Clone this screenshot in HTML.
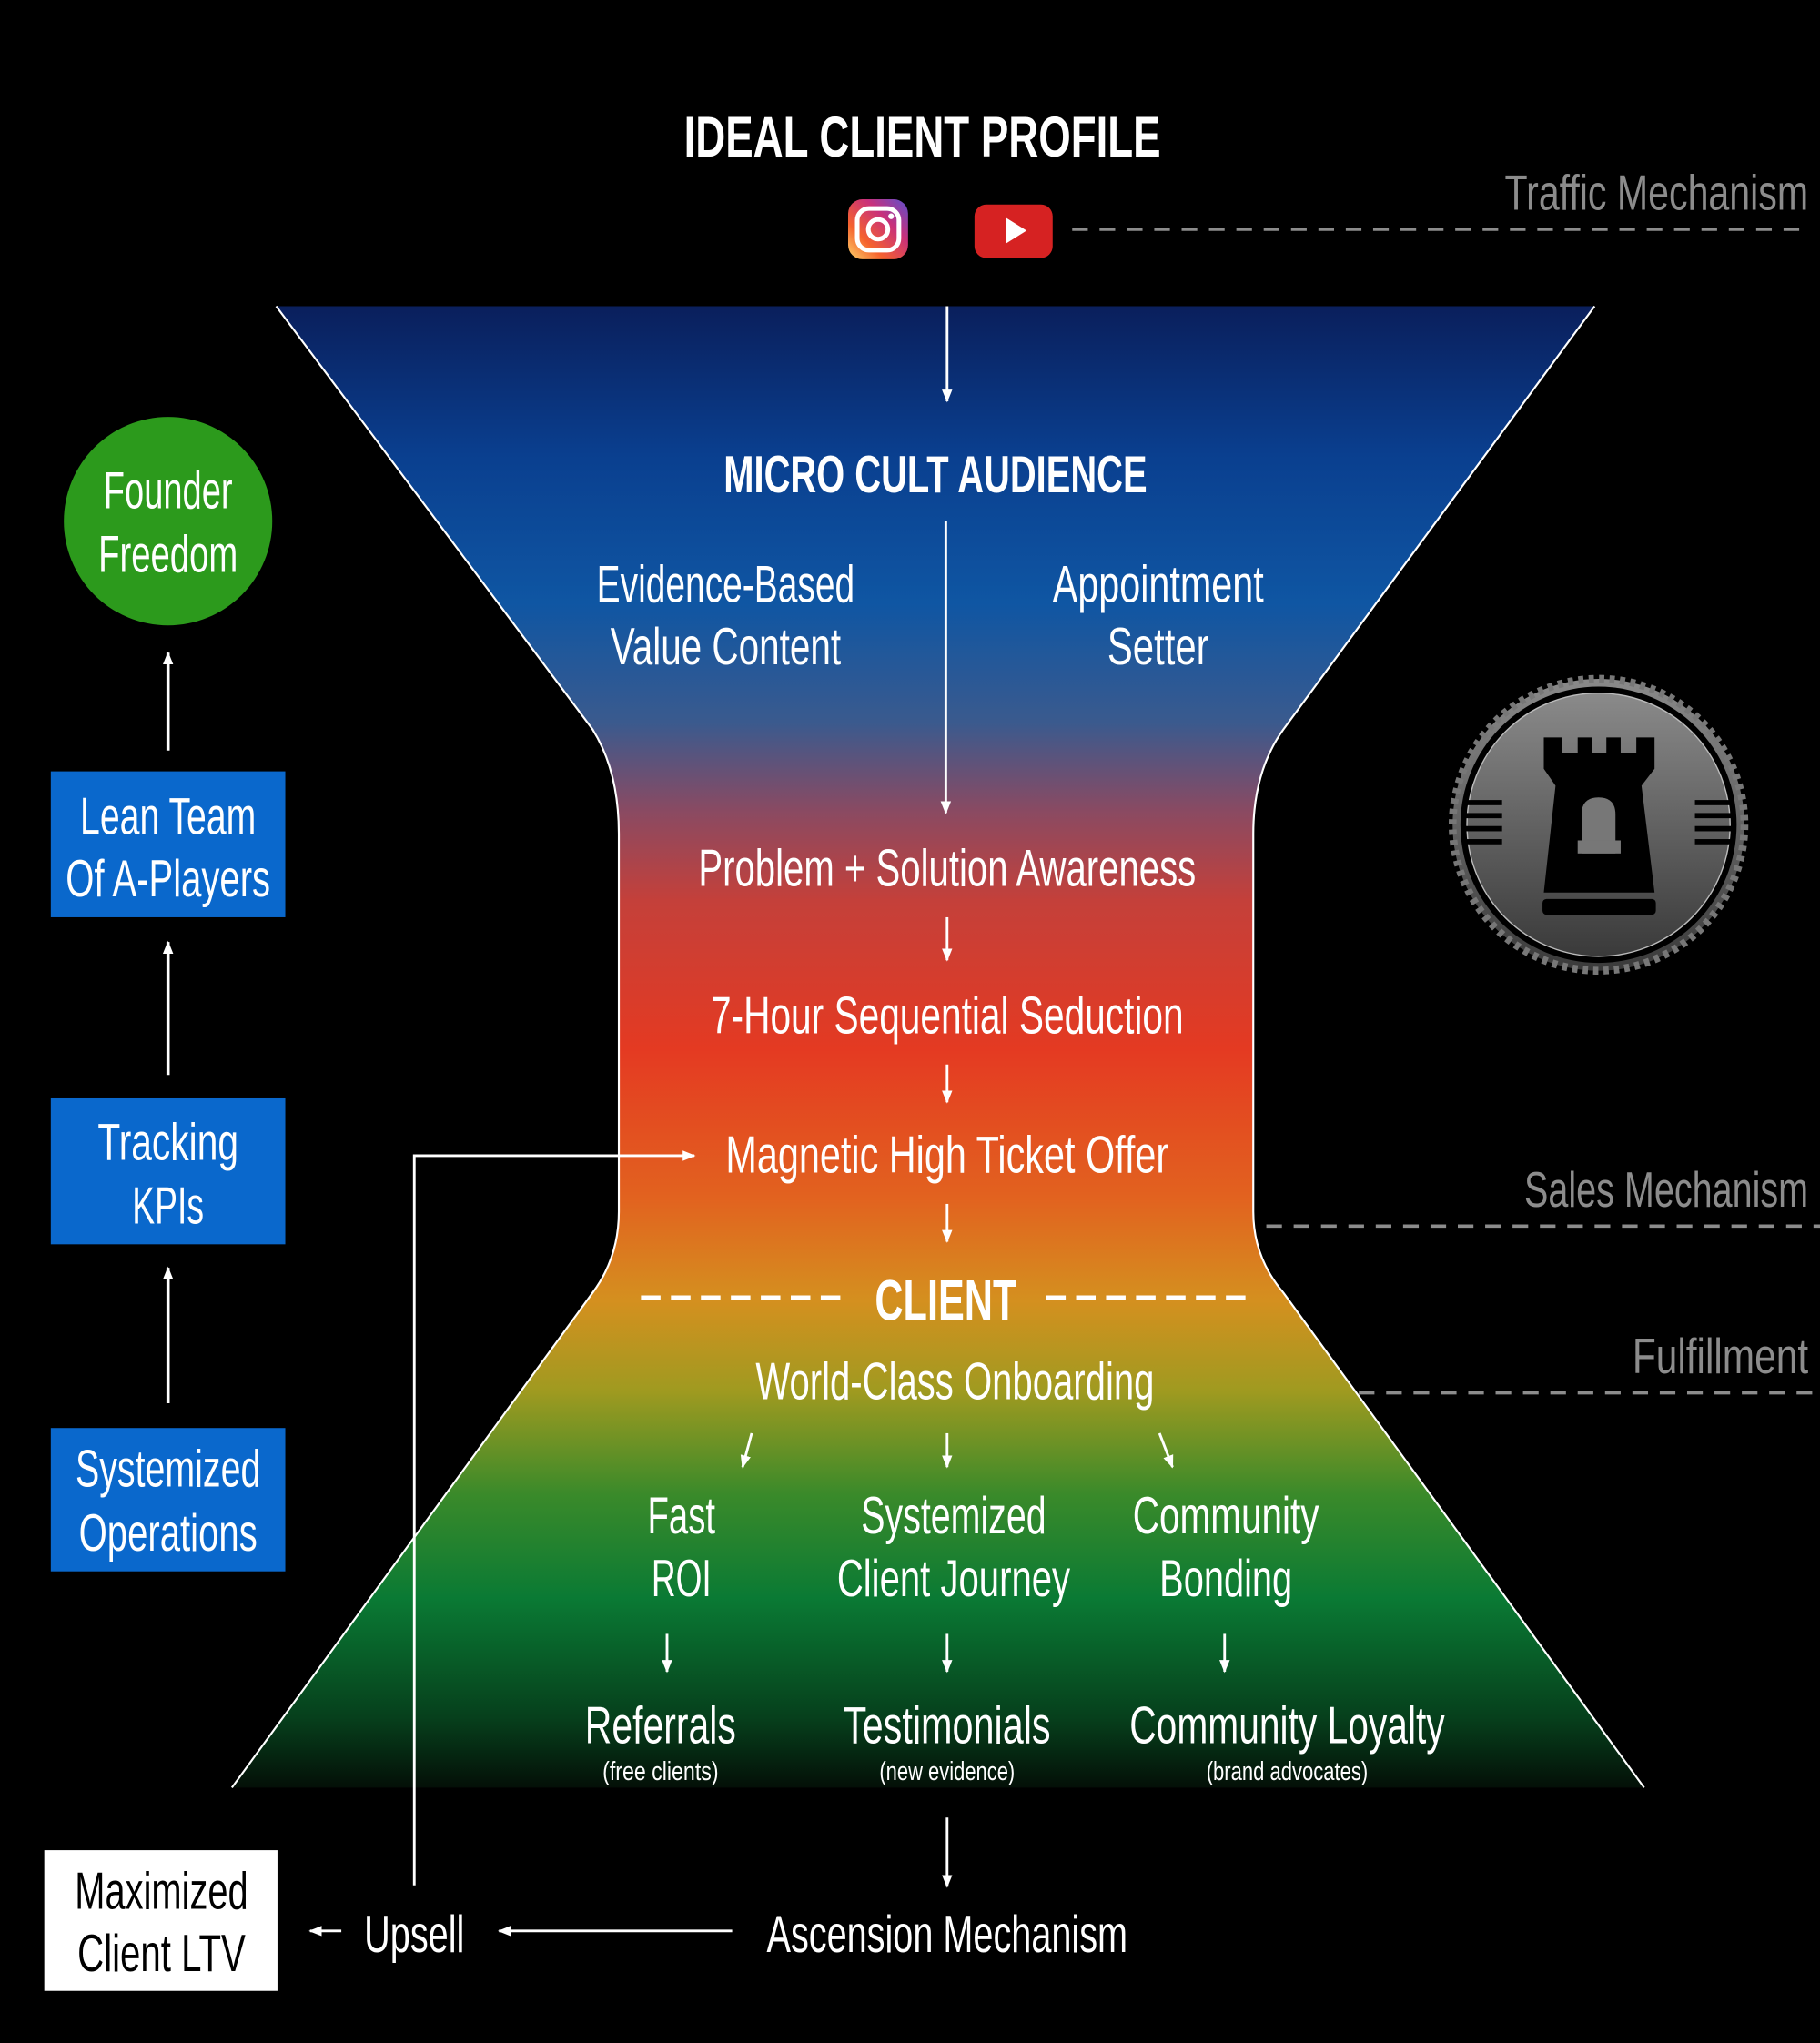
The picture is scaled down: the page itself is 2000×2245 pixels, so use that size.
<!DOCTYPE html>
<html><head><meta charset="utf-8"><style>
html,body{margin:0;padding:0;background:#000;}
svg{display:block;}
text{font-family:"Liberation Sans Narrow","Liberation Sans",sans-serif;fill:#fff;text-anchor:middle;}
.b{font-weight:bold;}
.g{fill:#8c8c8c;text-anchor:end;}
</style></head><body>
<svg width="2000" height="2245" viewBox="0 0 1397 1568" preserveAspectRatio="none" xmlns="http://www.w3.org/2000/svg">
<defs>
<linearGradient id="fg" x1="0" y1="235" x2="0" y2="1375" gradientUnits="userSpaceOnUse">
<stop offset="0" stop-color="#0a1f5c"/>
<stop offset="0.1" stop-color="#0a3f8f"/>
<stop offset="0.2" stop-color="#0f56a3"/>
<stop offset="0.28" stop-color="#3a5a8e"/>
<stop offset="0.34" stop-color="#8a4a62"/>
<stop offset="0.4" stop-color="#c4403a"/>
<stop offset="0.5" stop-color="#e43a22"/>
<stop offset="0.6" stop-color="#e2621f"/>
<stop offset="0.67" stop-color="#d4901f"/>
<stop offset="0.73" stop-color="#a09a20"/>
<stop offset="0.8" stop-color="#3a8a2a"/>
<stop offset="0.87" stop-color="#0a7a34"/>
<stop offset="0.95" stop-color="#06401c"/>
<stop offset="1" stop-color="#040d06"/>
</linearGradient>
<linearGradient id="ig" x1="0" y1="1" x2="1" y2="0">
<stop offset="0" stop-color="#fdd36a"/><stop offset="0.3" stop-color="#f5622e"/><stop offset="0.65" stop-color="#c9307a"/><stop offset="1" stop-color="#5b4fd0"/>
</linearGradient>
<linearGradient id="bg" x1="0" y1="0" x2="0" y2="1">
<stop offset="0" stop-color="#8a8a8a"/><stop offset="1" stop-color="#3a3a3a"/>
</linearGradient>
<marker id="ah" markerWidth="10" markerHeight="8" refX="9" refY="4" orient="auto" markerUnits="userSpaceOnUse"><path d="M0,0 L10,4 L0,8 Z" fill="#fff"/></marker>
</defs>

<path d="M212,235 L1224,235 L985,560 Q962,592 962,640 L962,930 Q962,965 985,992 L1262,1372 L178,1372 L455,992 Q475,965 475,930 L475,640 Q475,592 455,560 Z" fill="url(#fg)"/>
<path d="M212,235 L455,560 Q475,592 475,640 L475,930 Q475,965 455,992 L178,1372" fill="none" stroke="#fff" stroke-width="1.5"/>
<path d="M1224,235 L985,560 Q962,592 962,640 L962,930 Q962,965 985,992 L1262,1372" fill="none" stroke="#fff" stroke-width="1.5"/>

<g lengthAdjust="spacingAndGlyphs">
<text x="708" y="120" class="b" font-size="44" textLength="366" lengthAdjust="spacingAndGlyphs">IDEAL CLIENT PROFILE</text>
<text x="1388" y="161" class="g" font-size="38" textLength="233" lengthAdjust="spacingAndGlyphs">Traffic Mechanism</text>
<text x="718" y="378" class="b" font-size="40" textLength="325" lengthAdjust="spacingAndGlyphs">MICRO CULT AUDIENCE</text>
<text x="557" y="462" font-size="40" textLength="198" lengthAdjust="spacingAndGlyphs">Evidence-Based</text>
<text x="557" y="510" font-size="40" textLength="177" lengthAdjust="spacingAndGlyphs">Value Content</text>
<text x="889" y="462" font-size="40" textLength="162" lengthAdjust="spacingAndGlyphs">Appointment</text>
<text x="889" y="510" font-size="40" textLength="78" lengthAdjust="spacingAndGlyphs">Setter</text>
<text x="727" y="680" font-size="40" textLength="382" lengthAdjust="spacingAndGlyphs">Problem + Solution Awareness</text>
<text x="727" y="793" font-size="40" textLength="363" lengthAdjust="spacingAndGlyphs">7-Hour Sequential Seduction</text>
<text x="727" y="900" font-size="40" textLength="340" lengthAdjust="spacingAndGlyphs">Magnetic High Ticket Offer</text>
<text x="726" y="1013" class="b" font-size="44" textLength="109" lengthAdjust="spacingAndGlyphs">CLIENT</text>
<text x="1388" y="926" class="g" font-size="38" textLength="218" lengthAdjust="spacingAndGlyphs">Sales Mechanism</text>
<text x="1388" y="1054" class="g" font-size="38" textLength="135" lengthAdjust="spacingAndGlyphs">Fulfillment</text>
<text x="733" y="1074" font-size="40" textLength="306" lengthAdjust="spacingAndGlyphs">World-Class Onboarding</text>
<text x="523" y="1177" font-size="40" textLength="52" lengthAdjust="spacingAndGlyphs">Fast</text>
<text x="523" y="1225" font-size="40" textLength="46" lengthAdjust="spacingAndGlyphs">ROI</text>
<text x="732" y="1177" font-size="40" textLength="142" lengthAdjust="spacingAndGlyphs">Systemized</text>
<text x="732" y="1225" font-size="40" textLength="179" lengthAdjust="spacingAndGlyphs">Client Journey</text>
<text x="941" y="1177" font-size="40" textLength="143" lengthAdjust="spacingAndGlyphs">Community</text>
<text x="941" y="1225" font-size="40" textLength="102" lengthAdjust="spacingAndGlyphs">Bonding</text>
<text x="507" y="1338" font-size="40" textLength="116" lengthAdjust="spacingAndGlyphs">Referrals</text>
<text x="507" y="1366" font-size="20" textLength="89" lengthAdjust="spacingAndGlyphs">(free clients)</text>
<text x="727" y="1338" font-size="40" textLength="159" lengthAdjust="spacingAndGlyphs">Testimonials</text>
<text x="727" y="1366" font-size="20" textLength="104" lengthAdjust="spacingAndGlyphs">(new evidence)</text>
<text x="988" y="1338" font-size="40" textLength="242" lengthAdjust="spacingAndGlyphs">Community Loyalty</text>
<text x="988" y="1366" font-size="20" textLength="124" lengthAdjust="spacingAndGlyphs">(brand advocates)</text>
<text x="727" y="1498" font-size="40" textLength="277" lengthAdjust="spacingAndGlyphs">Ascension Mechanism</text>
<text x="318" y="1498" font-size="40" textLength="77" lengthAdjust="spacingAndGlyphs">Upsell</text>
</g>

<rect x="651" y="153" width="46" height="46" rx="11" fill="url(#ig)"/>
<rect x="658" y="160" width="32" height="32" rx="9" fill="none" stroke="#fff" stroke-width="3.5"/>
<circle cx="674" cy="176" r="7.5" fill="none" stroke="#fff" stroke-width="3.5"/>
<circle cx="684" cy="166" r="2.2" fill="#fff"/>
<rect x="748" y="157" width="60" height="41" rx="9" fill="#d62222"/>
<path d="M772,167 L788,177 L772,187 Z" fill="#fff"/>
<line x1="823" y1="176" x2="1385" y2="176" stroke="#8c8c8c" stroke-width="2.5" stroke-dasharray="12,9"/>

<line x1="727" y1="235" x2="727" y2="308" stroke="#fff" stroke-width="2" marker-end="url(#ah)"/>
<line x1="726" y1="400" x2="726" y2="624" stroke="#fff" stroke-width="2" marker-end="url(#ah)"/>
<line x1="727" y1="704" x2="727" y2="737" stroke="#fff" stroke-width="2" marker-end="url(#ah)"/>
<line x1="727" y1="817" x2="727" y2="846" stroke="#fff" stroke-width="2" marker-end="url(#ah)"/>
<line x1="727" y1="924" x2="727" y2="953" stroke="#fff" stroke-width="2" marker-end="url(#ah)"/>

<line x1="492" y1="996" x2="645" y2="996" stroke="#fff" stroke-width="3.5" stroke-dasharray="15,8"/>
<line x1="803" y1="996" x2="957" y2="996" stroke="#fff" stroke-width="3.5" stroke-dasharray="15,8"/>
<line x1="972" y1="941" x2="1397" y2="941" stroke="#8c8c8c" stroke-width="2.5" stroke-dasharray="12,9"/>
<line x1="1043" y1="1069" x2="1397" y2="1069" stroke="#8c8c8c" stroke-width="2.5" stroke-dasharray="12,9"/>

<line x1="577" y1="1100" x2="570" y2="1126" stroke="#fff" stroke-width="2" marker-end="url(#ah)"/>
<line x1="727" y1="1100" x2="727" y2="1126" stroke="#fff" stroke-width="2" marker-end="url(#ah)"/>
<line x1="890" y1="1100" x2="900" y2="1126" stroke="#fff" stroke-width="2" marker-end="url(#ah)"/>
<line x1="512" y1="1254" x2="512" y2="1283" stroke="#fff" stroke-width="2" marker-end="url(#ah)"/>
<line x1="727" y1="1254" x2="727" y2="1283" stroke="#fff" stroke-width="2" marker-end="url(#ah)"/>
<line x1="940" y1="1254" x2="940" y2="1283" stroke="#fff" stroke-width="2" marker-end="url(#ah)"/>

<line x1="727" y1="1395" x2="727" y2="1448" stroke="#fff" stroke-width="2" marker-end="url(#ah)"/>
<line x1="562" y1="1482" x2="383" y2="1482" stroke="#fff" stroke-width="2" marker-end="url(#ah)"/>
<line x1="262" y1="1482" x2="238" y2="1482" stroke="#fff" stroke-width="2" marker-end="url(#ah)"/>
<rect x="34" y="1420" width="179" height="108" fill="#fff"/>
<text x="124" y="1465" font-size="40" style="fill:#000" textLength="133" lengthAdjust="spacingAndGlyphs">Maximized</text>
<text x="124" y="1513" font-size="40" style="fill:#000" textLength="129" lengthAdjust="spacingAndGlyphs">Client LTV</text>
<polyline points="318,1447 318,887 533,887" fill="none" stroke="#fff" stroke-width="2" marker-end="url(#ah)"/>

<circle cx="129" cy="400" r="80" fill="#2c9a1c"/>
<text x="129" y="390" font-size="40" textLength="99" lengthAdjust="spacingAndGlyphs">Founder</text>
<text x="129" y="439" font-size="40" textLength="107" lengthAdjust="spacingAndGlyphs">Freedom</text>
<line x1="129" y1="576" x2="129" y2="501" stroke="#fff" stroke-width="2.5" marker-end="url(#ah)"/>
<rect x="39" y="592" width="180" height="112" fill="#0a68cc"/>
<text x="129" y="640" font-size="40" textLength="135" lengthAdjust="spacingAndGlyphs">Lean Team</text>
<text x="129" y="688" font-size="40" textLength="157" lengthAdjust="spacingAndGlyphs">Of A-Players</text>
<line x1="129" y1="825" x2="129" y2="723" stroke="#fff" stroke-width="2.5" marker-end="url(#ah)"/>
<rect x="39" y="843" width="180" height="112" fill="#0a68cc"/>
<text x="129" y="890" font-size="40" textLength="108" lengthAdjust="spacingAndGlyphs">Tracking</text>
<text x="129" y="939" font-size="40" textLength="55" lengthAdjust="spacingAndGlyphs">KPIs</text>
<line x1="129" y1="1077" x2="129" y2="973" stroke="#fff" stroke-width="2.5" marker-end="url(#ah)"/>
<rect x="39" y="1096" width="180" height="110" fill="#0a68cc"/>
<text x="129" y="1141" font-size="40" textLength="142" lengthAdjust="spacingAndGlyphs">Systemized</text>
<text x="129" y="1190" font-size="40" textLength="137" lengthAdjust="spacingAndGlyphs">Operations</text>

<g>
<circle cx="1227" cy="633" r="112" fill="url(#bg)" stroke="#777" stroke-width="6" stroke-dasharray="4,4"/>
<circle cx="1227" cy="633" r="106" fill="#000"/>
<circle cx="1227" cy="633" r="101" fill="url(#bg)" stroke="#bbb" stroke-width="1"/>
<path d="M1185,566 L1199,566 L1199,578 L1211,578 L1211,566 L1222,566 L1222,578 L1233,578 L1233,566 L1244,566 L1244,578 L1256,578 L1256,566 L1270,566 L1270,590 L1260,603 L1270,685 L1185,685 L1194,603 L1185,590 Z" fill="#000"/>
<path d="M1214,655 L1214,625 Q1214,612 1227,612 Q1240,612 1240,625 L1240,655 Z" fill="#777"/>
<rect x="1211" y="645" width="33" height="10" fill="#777"/>
<rect x="1184" y="690" width="87" height="12" rx="3" fill="#000"/>
<rect x="1123" y="614" width="30" height="4" fill="#000"/><rect x="1123" y="624" width="30" height="4" fill="#000"/><rect x="1123" y="634" width="30" height="4" fill="#000"/><rect x="1123" y="644" width="30" height="4" fill="#000"/>
<rect x="1301" y="614" width="30" height="4" fill="#000"/><rect x="1301" y="624" width="30" height="4" fill="#000"/><rect x="1301" y="634" width="30" height="4" fill="#000"/><rect x="1301" y="644" width="30" height="4" fill="#000"/>
</g>
</svg>
</body></html>
